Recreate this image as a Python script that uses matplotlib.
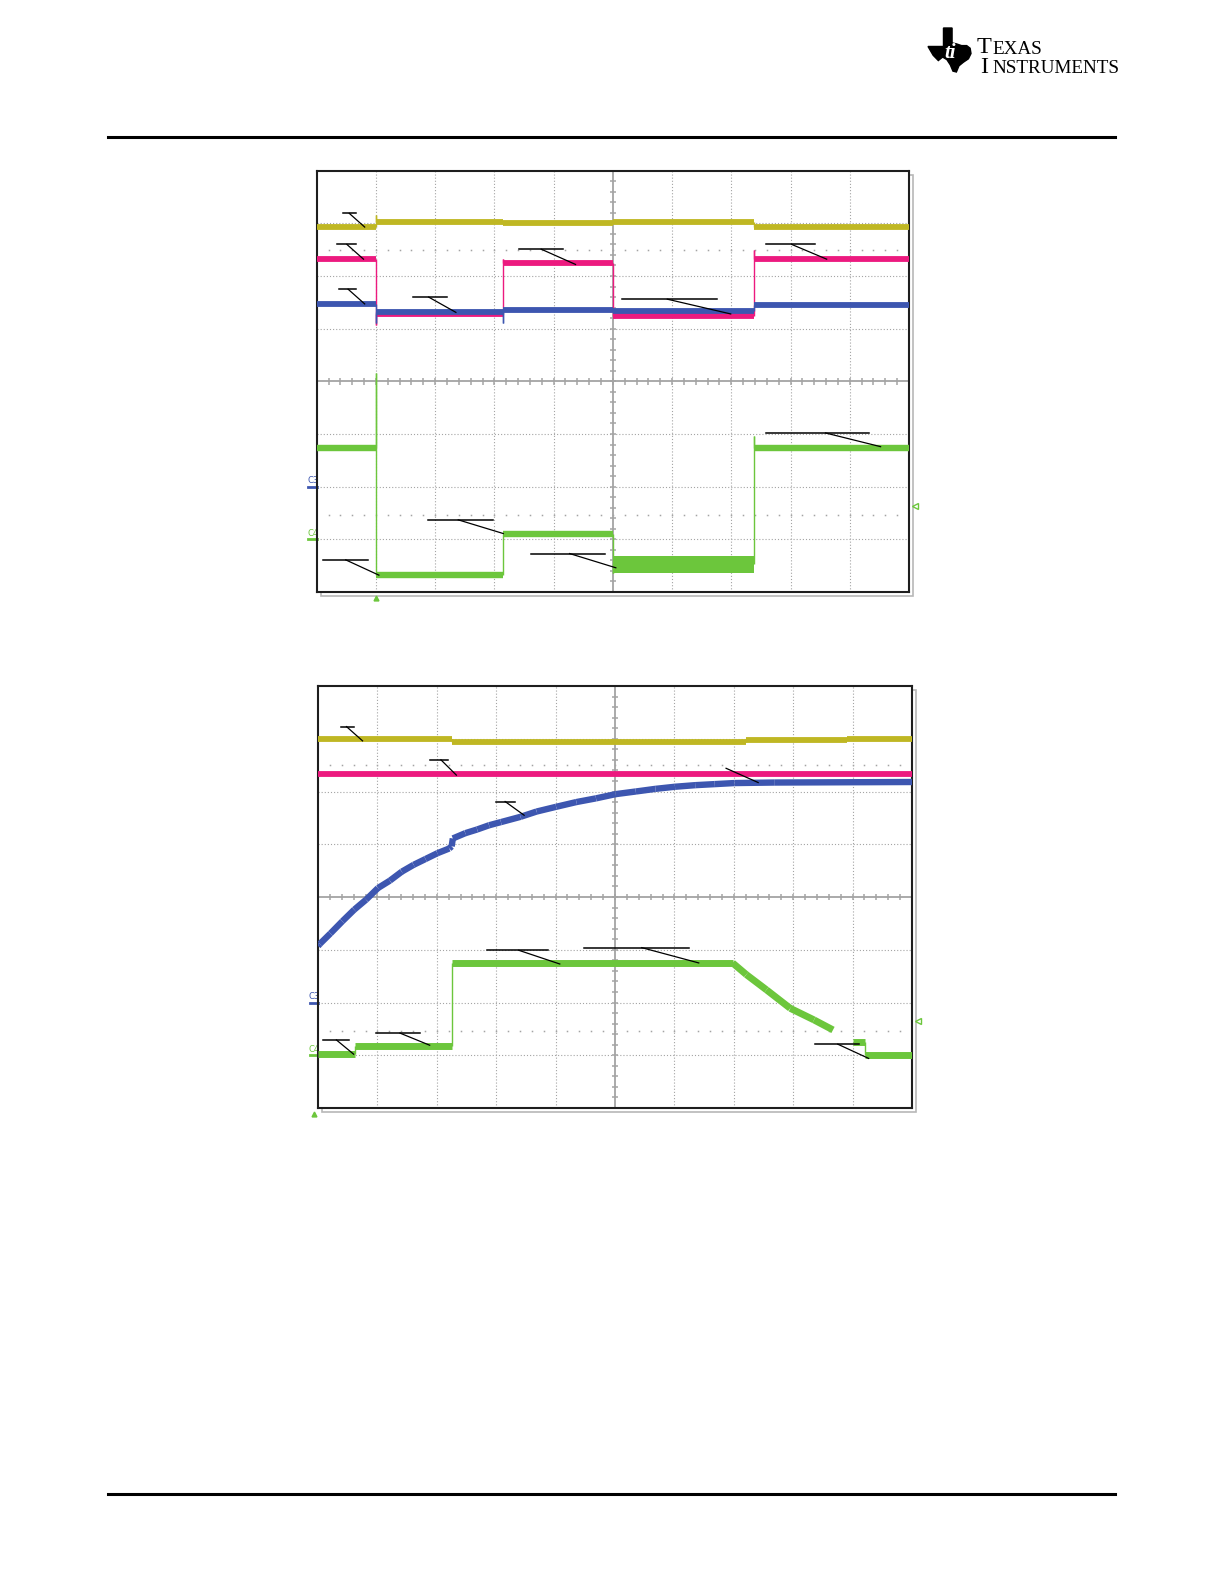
import numpy as np
import matplotlib
matplotlib.use("Agg")
from matplotlib import pyplot as plt
from matplotlib.lines import Line2D
from matplotlib.patches import Polygon, Rectangle

W, H = 1225, 1585

YELLOW = "#bfb723"
MAGENTA = "#ec1a7f"
BLUE = "#3d56b0"
GREEN = "#6cc63c"
GRID = "#a4a4a4"

# ---- top capture: piecewise levels (divisions), edges in divisions
top_edges = [0.0, 1.0, 3.15, 5.0, 7.39, 10.0]
top_yellow = [6.93, 7.02, 7.00, 7.02, 6.93]
top_yellow_peak = [7.15, 6.98, 7.04, 7.02]
top_magenta = [6.32, 5.27, 6.24, 5.24, 6.32]
top_magenta_peak = [5.07, 6.33, 5.24, 6.50]
top_blue = [5.46, 5.31, 5.36, 5.33, 5.45]
top_blue_peak = [5.10, 5.10, 5.36, 5.45]
top_green = [2.74, 0.33, 1.11, 0.53, 2.74]
top_green_peak = [4.16, 1.11, 0.37, 2.96]
top_green_band = (0.37, 0.68)  # noisy band during segment 4

# ---- bottom capture
bot_yellow_edges = [0.0, 2.25, 7.2, 8.9, 10.0]
bot_yellow = [7.00, 6.94, 6.97, 7.00]
bot_magenta_edges = [0.0, 10.0]
bot_magenta = [6.34]
bot_blue_x = [0.0, 0.03, 0.21, 0.41, 0.61, 0.81, 1.01, 1.21, 1.41, 1.61,
              1.81, 2.01, 2.21, 2.25, 2.27, 2.48, 2.68, 2.88, 3.08, 3.41,
              3.68, 4.01, 4.35, 4.68, 5.01, 5.35, 5.68, 6.01, 6.35, 6.68,
              7.01, 7.68, 10.0]
bot_blue_y = [3.07, 3.11, 3.31, 3.54, 3.76, 3.95, 4.17, 4.31, 4.48, 4.61,
              4.72, 4.83, 4.92, 4.96, 5.11, 5.21, 5.28, 5.36, 5.42, 5.52,
              5.62, 5.71, 5.80, 5.87, 5.95, 6.00, 6.05, 6.09, 6.12, 6.14,
              6.16, 6.17, 6.18]
bot_green_x = [0.0, 0.63, 0.63, 2.25, 2.25, 6.98, 7.21, 7.55, 7.95, 8.35,
               8.67, 8.67, 9.00, 9.21, 9.21, 10.0]
bot_green_y = [1.02, 1.02, 1.17, 1.17, 2.75, 2.75, 2.53, 2.24, 1.89, 1.67,
               1.48, np.nan, 1.25, 1.25, 1.01, 1.01]

# callouts: (h_x0, h_x1, h_y, diag_start_x, tip_x, tip_y)
top_callouts = [
    (0.44, 0.67, 7.19, 0.55, 0.81, 6.93),
    (0.35, 0.67, 6.60, 0.51, 0.79, 6.32),
    (0.37, 0.67, 5.75, 0.53, 0.81, 5.47),
    (1.63, 2.20, 5.60, 1.89, 2.35, 5.31),
    (3.41, 4.15, 6.51, 3.79, 4.37, 6.22),
    (5.15, 6.75, 5.56, 5.92, 6.99, 5.28),
    (7.59, 8.42, 6.60, 8.02, 8.61, 6.32),
    (7.59, 9.33, 3.02, 8.59, 9.52, 2.76),
    (1.88, 2.97, 1.37, 2.39, 3.15, 1.11),
    (3.61, 4.86, 0.73, 4.27, 5.05, 0.46),
    (0.11, 0.87, 0.61, 0.49, 1.05, 0.32),
]
bot_callouts = [
    (0.38, 0.60, 7.23, 0.48, 0.75, 6.96),
    (1.88, 2.19, 6.60, 2.07, 2.33, 6.31),
    (6.87, 6.87, 6.44, 6.87, 7.41, 6.17),
    (3.00, 3.32, 5.81, 3.15, 3.47, 5.55),
    (2.85, 3.88, 2.99, 3.38, 4.07, 2.73),
    (4.48, 6.24, 3.04, 5.45, 6.41, 2.75),
    (0.08, 0.52, 1.29, 0.31, 0.60, 1.02),
    (0.98, 1.71, 1.42, 1.38, 1.88, 1.19),
    (8.36, 9.11, 1.21, 8.75, 9.27, 0.94),
]


def fpx(x, y):
    return x / W, 1 - y / H


def step_path(edges, levels, peaks):
    xs, ys = [edges[0]], [levels[0]]
    for i in range(1, len(levels)):
        e = edges[i]
        xs += [e, e, e]
        ys += [levels[i - 1], peaks[i - 1], levels[i]]
    xs.append(edges[-1])
    ys.append(levels[-1])
    return xs, ys


def draw_trace(ax, xs, ys, color, lw=4.2, lw_edge=1.0, z=3):
    for i in range(len(xs) - 1):
        x0, x1, y0, y1 = xs[i], xs[i + 1], ys[i], ys[i + 1]
        if np.isnan(y0) or np.isnan(y1):
            continue
        w = lw_edge if x0 == x1 else lw
        ax.plot([x0, x1], [y0, y1], color=color, lw=w,
                solid_capstyle="butt", zorder=z)


def draw_callouts(ax, items):
    for hx0, hx1, hy, dx, tx, ty in items:
        if hx1 > hx0:
            ax.plot([hx0, hx1], [hy, hy], color="black", lw=1.1, zorder=6)
        ax.plot([dx, tx], [hy, ty], color="black", lw=0.9, zorder=6)


def screen(fig, rect):
    ax = fig.add_axes(rect)
    ax.set_xlim(0, 10)
    ax.set_ylim(0, 8)
    ax.set_xticks([])
    ax.set_yticks([])
    for sp in ax.spines.values():
        sp.set_color("#1e1e1e")
        sp.set_linewidth(1.5)
    # shadow frame
    l, b, w, h = rect
    fig.add_artist(Rectangle((l + 4 / W, b - 4 / H), w, h,
                             transform=fig.transFigure, fill=False,
                             ec="#b8b8b8", lw=1.2, zorder=0))
    for i in range(1, 10):
        if i != 5:
            ax.axvline(i, color=GRID, lw=0.8, ls=(0, (1, 1.8)), zorder=1)
    for j in range(1, 8):
        if j != 4:
            ax.axhline(j, color=GRID, lw=0.8, ls=(0, (1, 1.8)), zorder=1)
    ax.axvline(5, color=GRID, lw=1.3, zorder=1)
    ax.axhline(4, color=GRID, lw=1.3, zorder=1)
    xt = np.arange(0.2, 10, 0.2)
    yt = np.arange(0.2, 8, 0.2)
    ax.vlines(xt, 4 - 0.06, 4 + 0.06, color=GRID, lw=1.1, zorder=1)
    ax.hlines(yt, 5 - 0.05, 5 + 0.05, color=GRID, lw=1.1, zorder=1)
    for yy in (6.5, 1.46):
        ax.plot(xt, np.full(len(xt), yy), ls="none", marker="s", ms=1.1,
                mec="none", mfc=GRID, zorder=1)
    # channel markers
    ax.text(-0.16, 2.03, "C3", color=BLUE, fontsize=6, ha="left",
            va="bottom", clip_on=False, zorder=0)
    ax.plot([-0.14, 0], [2, 2], color=BLUE, lw=2, clip_on=False, zorder=0)
    ax.text(-0.16, 1.03, "C4", color=GREEN, fontsize=6, ha="left",
            va="bottom", clip_on=False, zorder=0)
    ax.plot([-0.14, 0], [1, 1], color=GREEN, lw=2, clip_on=False, zorder=0)
    ax.plot(10.1, 1.64, marker="<", ms=4, mfc="none", mec=GREEN, mew=1,
            clip_on=False)
    return ax


fig = plt.figure(figsize=(W / 100, H / 100), dpi=100)
fig.patch.set_facecolor("white")

# page rules
fig.add_artist(Line2D([108 / W, 1115 / W], [1 - 137 / H] * 2, lw=2.2,
                      color="black"))
fig.add_artist(Line2D([108 / W, 1115 / W], [1 - 1494 / H] * 2, lw=2.2,
                      color="black"))

# logo
shape = [(0.36, 0.0), (0.56, 0.0), (0.56, 0.34), (0.66, 0.36), (0.78, 0.40),
         (0.90, 0.40), (0.98, 0.46), (1.0, 0.58), (0.94, 0.70), (0.82, 0.78),
         (0.72, 0.86), (0.66, 1.0), (0.58, 0.98), (0.52, 0.84), (0.44, 0.72),
         (0.34, 0.66), (0.24, 0.74), (0.12, 0.62), (0.0, 0.42), (0.36, 0.42)]
fig.add_artist(Polygon([fpx(928 + 43 * sx, 28 + 44 * sy) for sx, sy in shape],
                       closed=True, transform=fig.transFigure, fc="black",
                       ec="black"))
fig.text(*fpx(944, 58), "ti", color="white", fontsize=15, style="italic",
         family="Liberation Serif", weight="bold")
fig.text(*fpx(977, 73), "T\nI", fontsize=17.5, family="Liberation Serif",
         va="baseline", ha="left", multialignment="center",
         linespacing=0.92)
fig.text(*fpx(992.5, 73), "EXAS\nNSTRUMENTS", fontsize=13.8,
         family="Liberation Serif", va="baseline", linespacing=1.16)

# top screen
ax1 = screen(fig, [316.7 / W, 1 - 592 / H, 592.3 / W, 421.3 / H])
draw_trace(ax1, *step_path(top_edges, top_yellow, top_yellow_peak), YELLOW)
draw_trace(ax1, *step_path(top_edges, top_magenta, top_magenta_peak), MAGENTA)
draw_trace(ax1, *step_path(top_edges, top_blue, top_blue_peak), BLUE)
draw_trace(ax1, *step_path(top_edges, top_green, top_green_peak), GREEN,
           lw=4.6)
ax1.fill_between([top_edges[3], top_edges[4]], top_green_band[0],
                 top_green_band[1], color=GREEN, lw=0, zorder=3)
draw_callouts(ax1, top_callouts)
ax1.plot(top_edges[1], -0.12, marker="^", ms=3.5, color=GREEN,
         clip_on=False)

# bottom screen
ax2 = screen(fig, [318 / W, 1 - 1108 / H, 594 / W, 422 / H])
draw_trace(ax2, *step_path(bot_yellow_edges, bot_yellow, bot_yellow[1:]),
           YELLOW)
draw_trace(ax2, *step_path(bot_magenta_edges, bot_magenta, []), MAGENTA)
draw_trace(ax2, bot_blue_x, bot_blue_y, BLUE, lw=4.6, lw_edge=4.6)
draw_trace(ax2, bot_green_x, bot_green_y, GREEN, lw=5.0)
draw_callouts(ax2, bot_callouts)
ax2.plot(-0.06, -0.12, marker="^", ms=3.5, color=GREEN, clip_on=False)

fig.savefig("out.png", dpi=100, facecolor="white")
